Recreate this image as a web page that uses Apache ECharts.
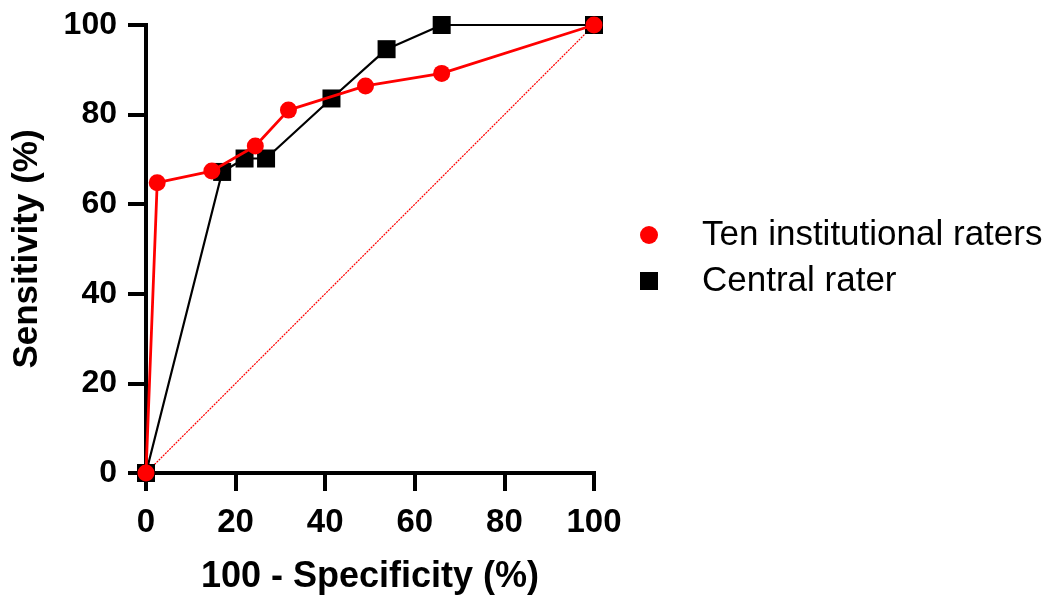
<!DOCTYPE html>
<html>
<head>
<meta charset="utf-8">
<script src="https://cdn.jsdelivr.net/npm/echarts@6/dist/echarts.min.js"></script>
<style>
html,body{margin:0;padding:0;background:#fff;}
#chart{width:1050px;height:601px;}
</style>
</head>
<body>
<div id="chart"></div>
<script>
// ---- data ----
const seriesNames = ['Ten institutional raters', 'Central rater'];
const institutionalX = [0, 2.5, 14.7, 24.4, 31.8, 49.0, 66.0, 100];
const institutionalY = [0, 64.8, 67.4, 73.0, 81.0, 86.4, 89.2, 100];
const centralX = [0, 17.0, 22.0, 26.8, 41.4, 53.7, 66.0, 100];
const centralY = [0, 67.2, 70.2, 70.2, 83.6, 94.6, 100, 100];
const referenceX = [0, 100];
const referenceY = [0, 100];
const xTicks = [0, 20, 40, 60, 80, 100];
const yTicks = [0, 20, 40, 60, 80, 100];
const xTitle = '100 - Specificity (%)';
const yTitle = 'Sensitivity (%)';

function pairs(xs, ys) { return xs.map((x, i) => [x, ys[i]]); }

const FONT = '"Liberation Sans", Arial, sans-serif';
const chart = echarts.init(document.getElementById('chart'), null, {renderer: 'canvas'});

const axisCommon = {
  min: 0, max: 100, interval: 20,
  axisLine: {show: true, onZero: false, lineStyle: {color: '#000', width: 4, cap: 'square'}},
  axisTick: {show: true, inside: false, length: 18, lineStyle: {color: '#000', width: 4}},
  splitLine: {show: false},
  nameLocation: 'middle'
};

chart.setOption({
  backgroundColor: '#fff',
  animation: false,
  grid: {left: 146, right: 456, top: 25, bottom: 128, containLabel: false},
  xAxis: Object.assign({}, axisCommon, {
    type: 'value',
    name: xTitle,
    nameGap: 86,
    nameTextStyle: {fontFamily: FONT, fontWeight: 'bold', fontSize: 36, color: '#000'},
    axisLabel: {margin: 33, fontFamily: FONT, fontWeight: 'bold', fontSize: 33, color: '#000',
      formatter: v => xTicks.includes(v) ? String(v) : ''}
  }),
  yAxis: Object.assign({}, axisCommon, {
    type: 'value',
    name: yTitle,
    nameGap: 101,
    nameTextStyle: {fontFamily: FONT, fontWeight: 'bold', fontSize: 35, color: '#000'},
    axisLabel: {margin: 29, fontFamily: FONT, fontWeight: 'bold', fontSize: 32, color: '#000',
      formatter: v => yTicks.includes(v) ? String(v) : ''}
  }),
  legend: {
    data: [
      {name: seriesNames[0], icon: 'circle'},
      {name: seriesNames[1], icon: 'rect'}
    ],
    orient: 'vertical',
    left: 635,
    top: 212,
    itemWidth: 18,
    itemHeight: 18,
    itemGap: 10,
    textStyle: {fontFamily: FONT, fontSize: 35, color: '#000', lineHeight: 36, padding: [0, 0, 0, 39]}
  },
  series: [
    {
      name: 'reference',
      type: 'line',
      data: pairs(referenceX, referenceY),
      showSymbol: false,
      symbol: 'none',
      silent: true,
      z: 1,
      lineStyle: {color: '#ff0000', width: 1.2, type: [2, 1]}
    },
    {
      name: seriesNames[1],
      type: 'line',
      data: pairs(centralX, centralY),
      symbol: 'rect',
      symbolSize: 18,
      z: 2,
      itemStyle: {color: '#000'},
      lineStyle: {color: '#000', width: 2.2}
    },
    {
      name: seriesNames[0],
      type: 'line',
      data: pairs(institutionalX, institutionalY),
      symbol: 'circle',
      symbolSize: 17,
      z: 3,
      itemStyle: {color: '#ff0000'},
      lineStyle: {color: '#ff0000', width: 2.8}
    }
  ]
});
</script>
</body>
</html>
